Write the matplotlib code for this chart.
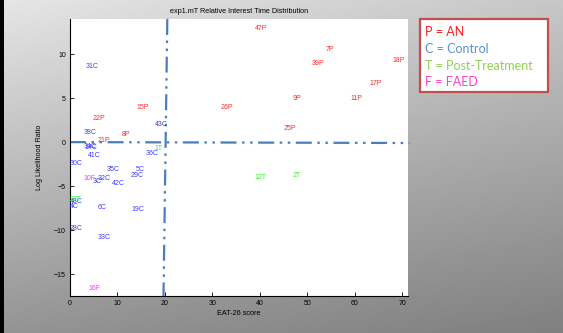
import numpy as np
import matplotlib.pyplot as plt
from matplotlib.patches import Rectangle

plt.rcParams['font.family'] = ['Liberation Sans', 'DejaVu Sans']
plt.rcParams['lines.scale_dashes'] = False

# subject labels: EAT-26 score vs log likelihood ratio
an_labels = ['47P', '7P', '39P', '18P', '17P', '9P', '11P', '26P', '15P', '25P', '22P', '8P', '21P']
an_x = [38.9, 53.9, 50.9, 67.9, 63.1, 46.8, 59.0, 31.8, 13.9, 44.9, 4.8, 10.8, 5.8]
an_y = [12.97, 10.5, 8.9, 9.25, 6.63, 4.93, 4.93, 3.9, 3.9, 1.51, 2.65, 0.83, 0.15]

ctl_labels = ['31C', '38C', '43C', '36C', '34C', '14C', '41C', '30C', '35C', '5C', '29C',
              '32C', '3C', '42C', '48C', '4C', '6C', '19C', '28C', '33C']
ctl_x = [3.2, 2.8, 17.8, 15.9, 2.9, 3.1, 3.8, 0.0, 7.8, 13.8, 12.8,
         5.9, 4.8, 8.8, 0.0, 0.0, 5.8, 12.9, 0.0, 5.8]
ctl_y = [8.65, 1.06, 1.97, -1.33, -0.45, -0.6, -1.56, -2.47, -3.07, -3.07, -3.83,
         -4.1, -4.44, -4.74, -6.8, -7.3, -7.4, -7.62, -9.78, -10.8]

post_labels = ['1T', '12T', '2T', '27T']
post_x = [17.8, 38.9, 46.8, 0.0]
post_y = [-0.76, -3.98, -3.83, -6.56]

faed_labels = ['10F', '16F']
faed_x = [2.8, 3.9]
faed_y = [-4.1, -16.6]

# cut-off lines
cut_vx = [20.5, 19.7]
cut_vy = [14.0, -17.5]
cut_hx = [0.0, 71.5]
cut_hy = [0.0, -0.1]

key_text = ['P = AN', 'C = Control', 'T = Post-Treatment', 'F = FAED']
key_colors = ['#ff2020', '#5b8fd6', '#92d050', '#ff40c8']

fig = plt.figure(figsize=(5.63, 3.33), dpi=100)

# grey shaded backdrop
bg = fig.add_axes([0, 0, 1, 1], zorder=-10)
gx, gy = np.meshgrid(np.linspace(0, 1, 300), np.linspace(0, 1, 200))
shade = 0.90 - 0.12 * gx - 0.32 * gy + 0.04 * gx * gy
bg.imshow(shade, cmap='gray', vmin=0, vmax=1, aspect='auto', extent=[0, 1, 1, 0])
bg.set_xlim(0, 1)
bg.set_ylim(1, 0)
bg.axis('off')
fig.patches.append(Rectangle((0, 0), 0.007, 1, transform=fig.transFigure,
                             facecolor='black', edgecolor='none'))

ax = fig.add_axes([0.1243, 0.111, 0.6004, 0.832])
ax.set_xlim(0, 71.2)
ax.set_ylim(-17.5, 14)
ax.set_xticks(np.arange(0, 71, 10))
ax.set_yticks([-15, -10, -5, 0, 5, 10])
for side in ['top', 'right']:
    ax.spines[side].set_visible(False)
for side in ['left', 'bottom']:
    ax.spines[side].set_linewidth(0.8)
ax.tick_params(direction='in', length=3, width=0.6, labelsize=5, pad=3)
ax.set_title('exp1.mT Relative Interest Time Distribution', fontsize=5.2, pad=4)
ax.set_xlabel('EAT-26 score', fontsize=5.2, labelpad=2)
ax.set_ylabel('Log Likelihood Ratio', fontsize=5.2, labelpad=8)

groups = [(an_labels, an_x, an_y, '#ff2a2a'),
          (ctl_labels, ctl_x, ctl_y, '#3a3aff'),
          (post_labels, post_x, post_y, '#30f030'),
          (faed_labels, faed_x, faed_y, '#ff30ff')]
for labels, xs, ys, col in groups:
    for lab, x, y in zip(labels, xs, ys):
        ax.text(x, y, lab, color=col, fontsize=5, ha='left', va='center', clip_on=False)

dash = (0, (11.5, 4, 1.8, 4, 1.8, 4))
ax.plot(cut_vx, cut_vy, color='#4a7ebb', linewidth=1.6, linestyle=dash, clip_on=False)
ax.plot(cut_hx, cut_hy, color='#4a7ebb', linewidth=1.6, linestyle=dash, clip_on=False)

# key box
fig.patches.append(Rectangle((420 / 563, 1 - 92 / 333), 128 / 563, 73 / 333,
                             transform=fig.transFigure, facecolor='white',
                             edgecolor='#c0504d', linewidth=1.6))
for i, (t, c) in enumerate(zip(key_text, key_colors)):
    fig.text(425 / 563, 1 - (32 + i * 16.8) / 333, t, color=c, fontsize=9,
             family=['Lato', 'DejaVu Sans'], ha='left', va='center')

fig.savefig('out.png', dpi=100)
